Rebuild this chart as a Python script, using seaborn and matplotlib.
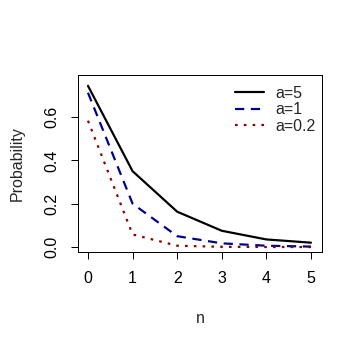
import pandas as pd
import matplotlib
matplotlib.use("Agg")
import matplotlib.pyplot as plt
import seaborn as sns

# values
n_values = [0, 1, 2, 3, 4, 5]
prob_a5 = [0.744, 0.350, 0.163, 0.075, 0.035, 0.020]
prob_a1 = [0.712, 0.200, 0.050, 0.017, 0.006, 0.002]
prob_a02 = [0.583, 0.058, 0.006, 0.001, 0.000, 0.000]
series_labels = ["a=5", "a=1", "a=0.2"]
series_colors = ["black", "#00008B", "#8B0000"]

df = pd.concat([
    pd.DataFrame({"n": n_values, "Probability": vals, "series": lab})
    for vals, lab in zip([prob_a5, prob_a1, prob_a02], series_labels)
])

sns.set_style("white")
plt.rcParams["font.family"] = ["Liberation Sans", "DejaVu Sans"]
fs = 16

fig = plt.figure(figsize=(361 / 72, 348 / 72), dpi=72)
ax = fig.add_axes([78 / 361, 1 - 252 / 348, 244 / 361, 177 / 348])

sns.lineplot(
    data=df, x="n", y="Probability", hue="series", style="series",
    palette=dict(zip(series_labels, series_colors)),
    dashes={"a=5": "", "a=1": (4.2, 3.0), "a=0.2": (1.2, 2.8)},
    linewidth=2.2, ax=ax, legend=True,
)

ax.set_xlim(-0.224, 5.247)
ax.set_ylim(-0.023, 0.794)
ax.set_xticks(n_values)
ax.set_yticks([0.0, 0.2, 0.4, 0.6])
ax.set_yticklabels(["0.0", "0.2", "0.4", "0.6"], rotation=90, va="center")
ax.tick_params(direction="out", length=7, width=1, pad=12, colors="black",
               labelsize=fs, left=True, bottom=True)
for sp in ax.spines.values():
    sp.set_linewidth(1)
    sp.set_color("black")

ax.set_xlabel("n", fontsize=fs, labelpad=25)
ax.set_ylabel("Probability", fontsize=fs, labelpad=19)

leg = ax.legend(loc="upper right", frameon=False, fontsize=fs,
                handlelength=1.8, handletextpad=0.75, labelspacing=0.1,
                borderpad=0, borderaxespad=0,
                bbox_to_anchor=(0.975, 0.94))

fig.savefig("out.png", dpi=72, facecolor="white")
